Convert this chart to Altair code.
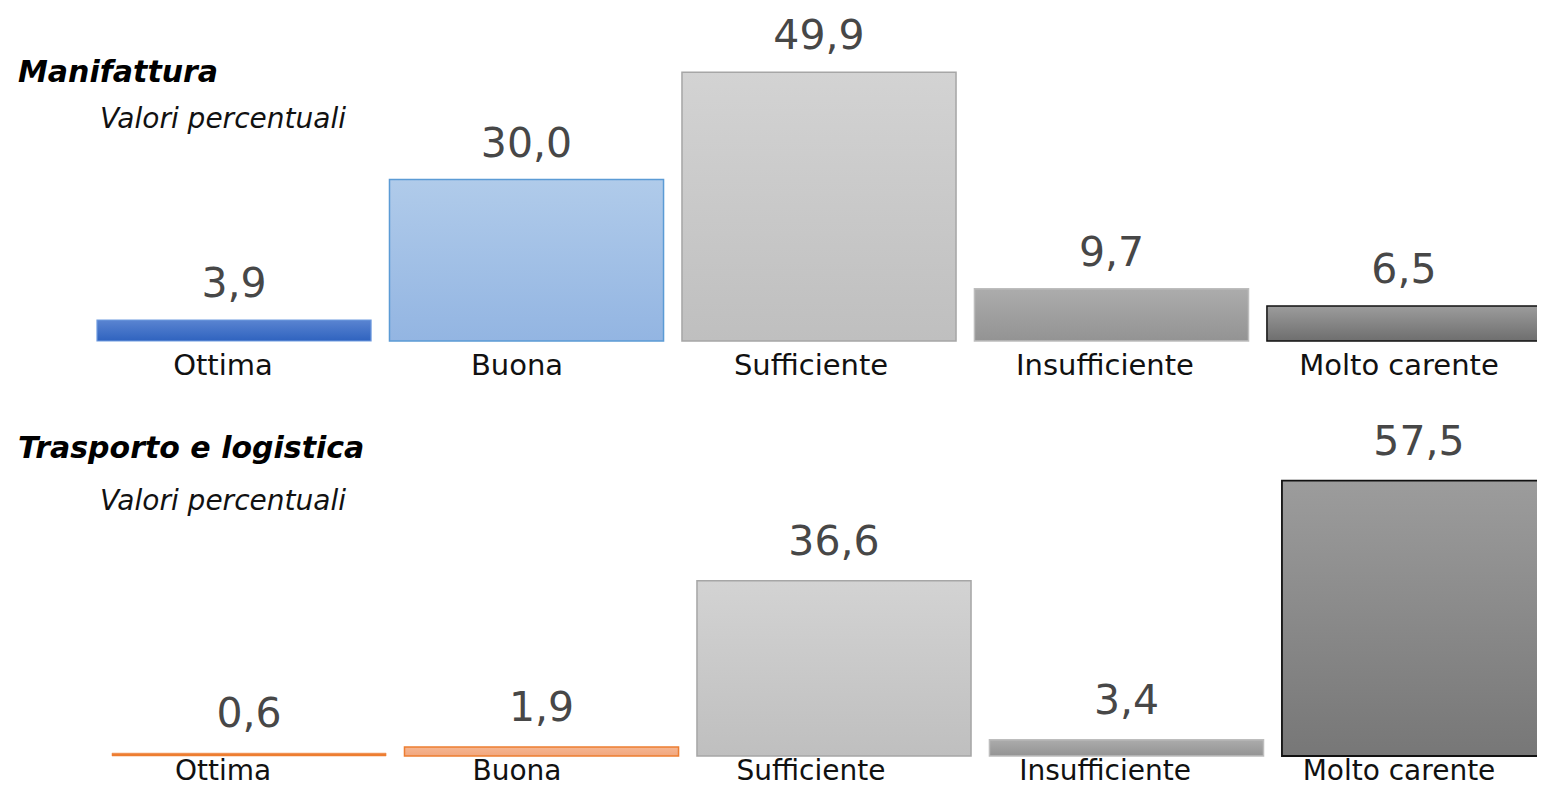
import altair as alt
import pandas as pd

# ---- data ----
categorie = ["Ottima", "Buona", "Sufficiente", "Insufficiente", "Molto carente"]
manifattura = [3.9, 30.0, 49.9, 9.7, 6.5]
trasporto = [0.6, 1.9, 36.6, 3.4, 57.5]
titoli = ["Manifattura", "Trasporto e logistica"]
sottotitolo = "Valori percentuali"

FONT = "DejaVu Sans"


def grad(top, bottom):
    return alt.LinearGradient(
        gradient="linear",
        stops=[alt.GradientStop(color=top, offset=0), alt.GradientStop(color=bottom, offset=1)],
        x1=0, x2=0, y1=0, y2=1,
    )


# ---- styles (fill gradient, stroke, strokeWidth) ----
stili_man = [
    (grad("#5a84d1", "#2f63bf"), "#6f9be0", 1.2),
    (grad("#b0cbea", "#93b5e2"), "#5b9bd5", 1.5),
    (grad("#d3d3d3", "#bfbfbf"), "#a6a6a6", 1.5),
    (grad("#acacac", "#939393"), "#bdbdbd", 1.5),
    (grad("#9c9c9c", "#6e6e6e"), "#111111", 1.5),
]
stili_tra = [
    ("#ed7d31", "#ed7d31", 0.5),
    (grad("#f5b692", "#f2a77e"), "#ed7d31", 1.5),
    (grad("#d3d3d3", "#bfbfbf"), "#a6a6a6", 1.5),
    (grad("#acacac", "#939393"), "#bdbdbd", 1.5),
    (grad("#9c9c9c", "#777777"), "#111111", 1.8),
]

pannelli = [
    dict(nome=titoli[0], valori=manifattura, stili=stili_man,
         xr=[89, 1533], yr=[333, 10], val_dy=-35, cat_dy=25, cat_fs=29, cat_base="middle",
         tit_y=65, sub_y=112),
    dict(nome=titoli[1], valori=trasporto, stili=stili_tra,
         xr=[104, 1548], yr=[748, 460.6], val_dy=-38, cat_dy=24, cat_fs=28, cat_base="alphabetic",
         tit_y=441, sub_y=494),
]

layers = []
for p in pannelli:
    df = pd.DataFrame({
        "cat": categorie,
        "val": p["valori"],
        "label": [f"{v:.1f}".replace(".", ",") for v in p["valori"]],
    })
    xs = alt.Scale(type="band", domain=categorie, range=p["xr"], paddingInner=0.063, paddingOuter=0)
    ys = alt.Scale(domain=[0, 60], range=p["yr"])
    base = alt.Chart(df)
    for cat, (fill, stroke, sw) in zip(categorie, p["stili"]):
        layers.append(
            base.transform_filter(alt.datum.cat == cat)
            .mark_bar(fill=fill, stroke=stroke, strokeWidth=sw)
            .encode(
                x=alt.X("cat:N", scale=xs, axis=None),
                y=alt.Y("val:Q", scale=ys, axis=None),
            )
        )
    # value labels
    layers.append(
        base.mark_text(font=FONT, fontSize=41, color="#474747",
                       baseline="middle", dy=p["val_dy"])
        .encode(
            x=alt.X("cat:N", scale=xs, axis=None),
            y=alt.Y("val:Q", scale=ys, axis=None),
            text="label:N",
        )
    )
    # category labels
    layers.append(
        base.transform_calculate(zero="0")
        .mark_text(font=FONT, fontSize=p["cat_fs"], color="#111111", baseline=p["cat_base"], dy=p["cat_dy"])
        .encode(
            x=alt.X("cat:N", scale=alt.Scale(type="point", domain=categorie, range=[215, 1391], padding=0), axis=None),
            y=alt.Y("zero:Q", scale=ys, axis=None),
            text="cat:N",
        )
    )
    # titles
    tdf = pd.DataFrame({"t": [p["nome"]], "s": [sottotitolo]})
    layers.append(
        alt.Chart(tdf).mark_text(font=FONT, fontSize=30, fontWeight="bold", fontStyle="italic",
                                 color="#000000", align="left", baseline="middle")
        .encode(x=alt.value(10), y=alt.value(p["tit_y"]), text="t:N")
    )
    layers.append(
        alt.Chart(tdf).mark_text(font=FONT, fontSize=28, fontStyle="italic", fontWeight=300,
                                 color="#111111", align="left", baseline="middle")
        .encode(x=alt.value(92), y=alt.value(p["sub_y"]), text="s:N")
    )

chart = (
    alt.layer(*layers)
    .resolve_scale(x="independent", y="independent")
    .properties(width=1529, height=780, padding=0, autosize="none")
    .configure_view(stroke=None)
)

chart.save("out.html", embed_options={"renderer": "svg", "actions": False})
